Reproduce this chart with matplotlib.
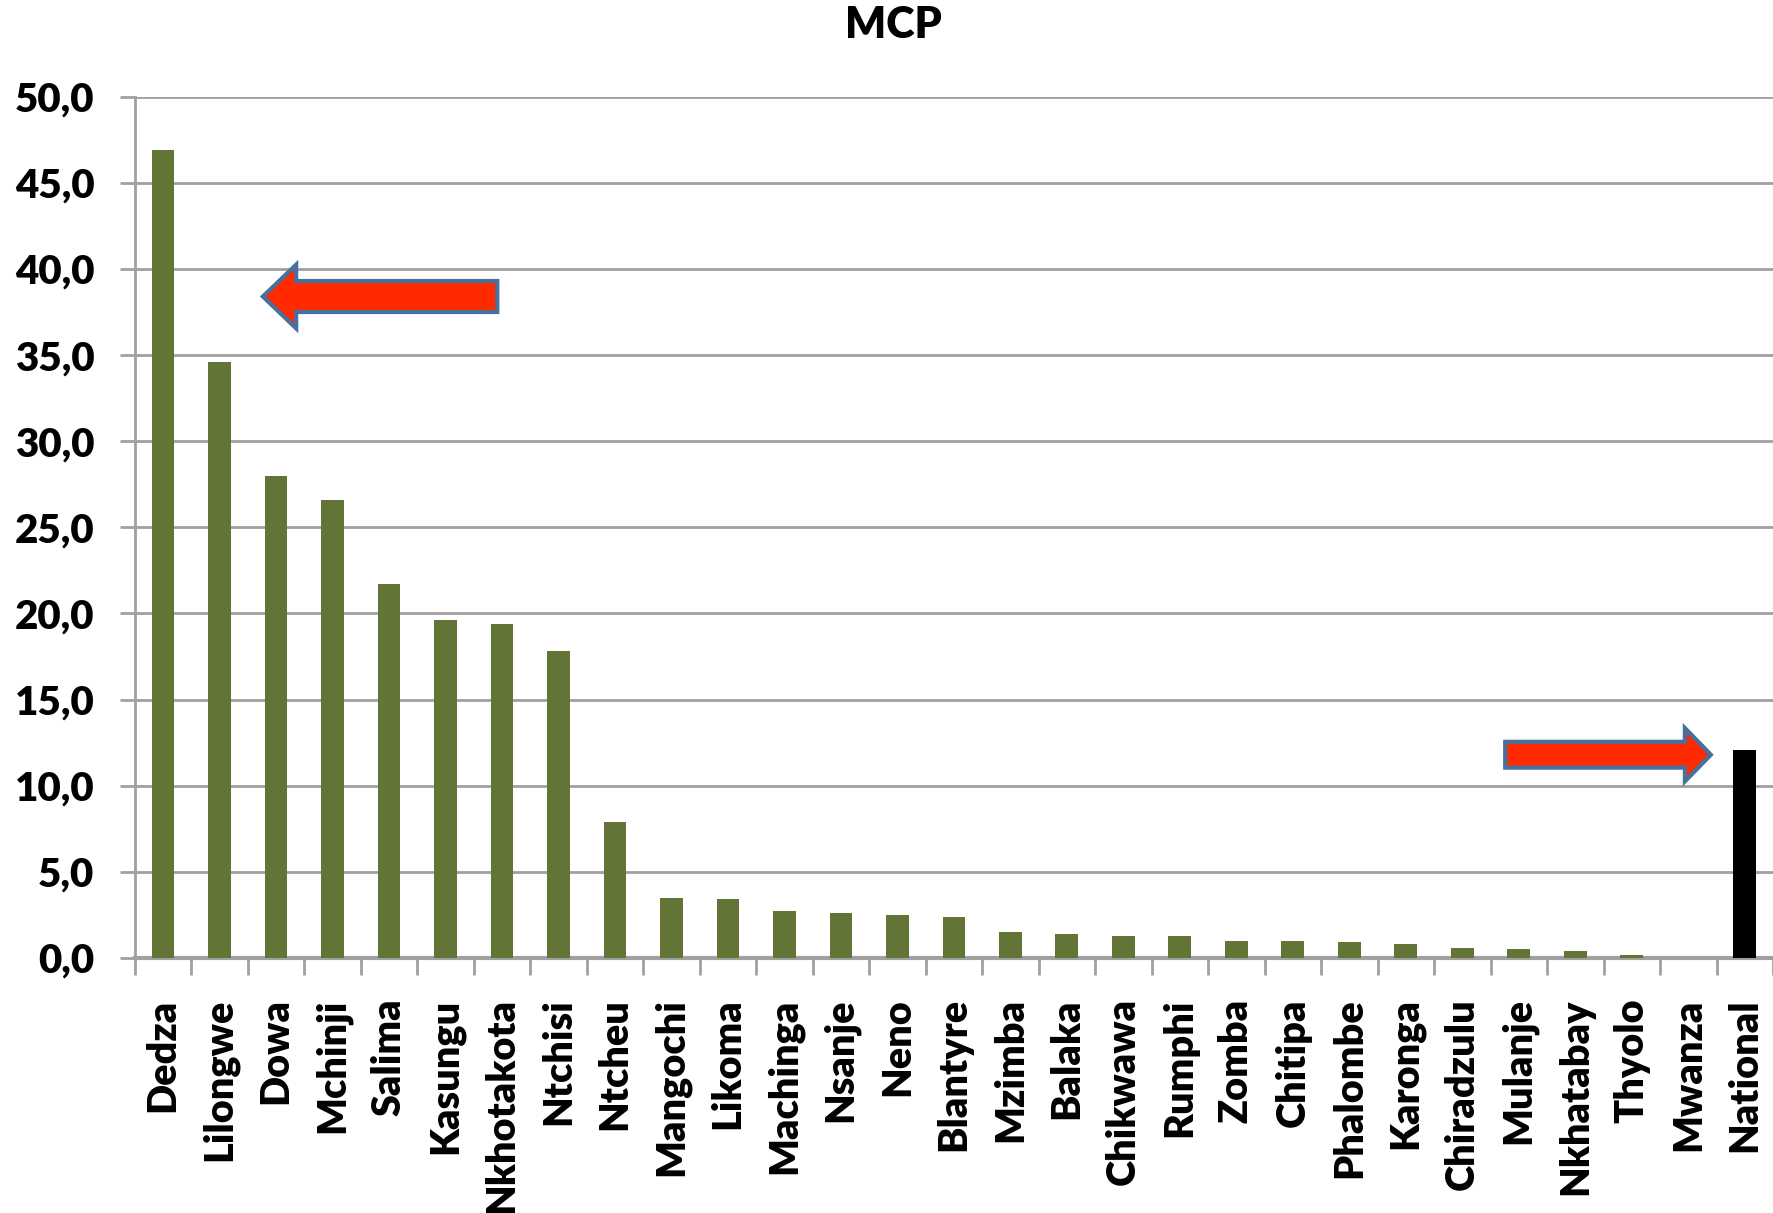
import matplotlib.pyplot as plt
from matplotlib.patches import FancyArrow
from matplotlib.ticker import FixedLocator, FuncFormatter

# datos
distritos = [
    "Dedza", "Lilongwe", "Dowa", "Mchinji", "Salima", "Kasungu", "Nkhotakota",
    "Ntchisi", "Ntcheu", "Mangochi", "Likoma", "Machinga", "Nsanje", "Neno",
    "Blantyre", "Mzimba", "Balaka", "Chikwawa", "Rumphi", "Zomba", "Chitipa",
    "Phalombe", "Karonga", "Chiradzulu", "Mulanje", "Nkhatabay", "Thyolo",
    "Mwanza", "National",
]
valores = [
    46.9, 34.6, 28.0, 26.6, 21.7, 19.6, 19.4, 17.8, 7.9, 3.5, 3.4, 2.7, 2.6,
    2.5, 2.4, 1.5, 1.4, 1.3, 1.3, 1.0, 1.0, 0.9, 0.8, 0.6, 0.5, 0.4, 0.2,
    0.0, 12.1,
]
y_ticks = [0, 5, 10, 15, 20, 25, 30, 35, 40, 45, 50]

FUENTE = "Lato"
PESO = "heavy"
VERDE = "#637536"
GRIS = "#a0a0a0"

fig = plt.figure(figsize=(17.73, 12.13), dpi=100)
ax = fig.add_axes([134.6 / 1773, 1 - 958 / 1213, 1 - 134.6 / 1773, (958 - 96.7) / 1213])

x = list(range(len(distritos)))
colores = [VERDE] * (len(distritos) - 1) + ["black"]
ax.bar(x, valores, width=0.4, color=colores, zorder=3)

ax.set_xlim(-0.5, len(distritos) - 0.5)
ax.set_ylim(0, 50)

# ejes y rejilla
ax.set_yticks(y_ticks)
ax.yaxis.set_major_formatter(FuncFormatter(lambda v, p: f"{v:.1f}".replace(".", ",")))
ax.grid(axis="y", color=GRIS, linewidth=2, zorder=0)
ax.set_xticks(x)
ax.set_xticklabels(distritos, rotation=90, fontsize=28.5, fontweight=PESO, family=FUENTE)
ax.xaxis.set_minor_locator(FixedLocator([i - 0.5 for i in range(len(distritos) + 1)]))
ax.tick_params(axis="x", which="major", length=0, pad=29)
ax.tick_params(axis="x", which="minor", length=12, width=2, color=GRIS)
ax.tick_params(axis="y", length=11, width=2, color=GRIS, pad=18)
for lab in ax.get_yticklabels():
    lab.set_fontsize(29)
    lab.set_fontweight(PESO)
    lab.set_family(FUENTE)

for lado in ["top", "right"]:
    ax.spines[lado].set_visible(False)
ax.spines["left"].set_color(GRIS)
ax.spines["left"].set_linewidth(2)
ax.spines["bottom"].set_color(GRIS)
ax.spines["bottom"].set_linewidth(3)

# flechas rojas
flecha1 = FancyArrow(5.92, 38.4, -4.15, 0, width=1.8, head_width=3.7, head_length=0.59,
                     length_includes_head=True, facecolor="#ff2a00", edgecolor="#46709e",
                     linewidth=3, zorder=4)
flecha2 = FancyArrow(23.76, 11.8, 3.64, 0, width=1.5, head_width=3.1, head_length=0.46,
                     length_includes_head=True, facecolor="#ff2a00", edgecolor="#46709e",
                     linewidth=3, zorder=4)
ax.add_patch(flecha1)
ax.add_patch(flecha2)

fig.text(893 / 1773, 1 - 25 / 1213, "MCP", ha="center", va="center",
         fontsize=31, fontweight=PESO, family=FUENTE)

fig.savefig("out.png", dpi=100)
